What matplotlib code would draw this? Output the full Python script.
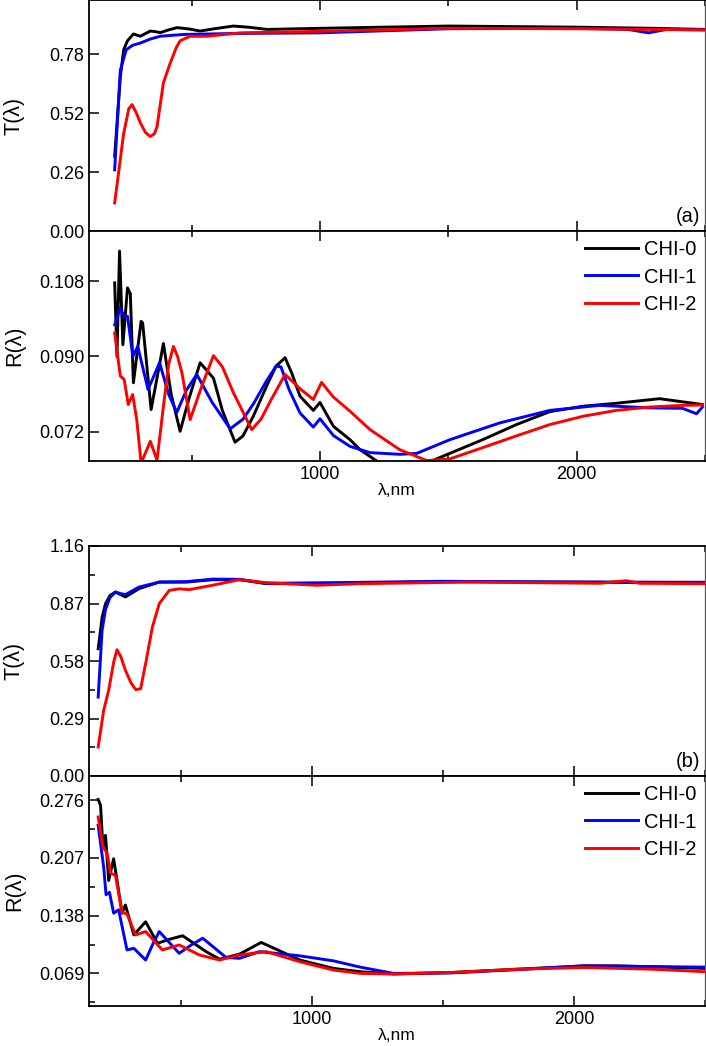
import numpy as np
import matplotlib
matplotlib.use('Agg')
import matplotlib.pyplot as plt
from matplotlib.ticker import MultipleLocator

plt.rcParams['font.family'] = ['Liberation Sans', 'DejaVu Sans']
plt.rcParams['font.size'] = 13

labels = ['CHI-0', 'CHI-1', 'CHI-2']
colors = ['black', 'blue', 'red']

# ---- panel (a), transmittance ----
lam_Ta0 = [200, 222, 235, 250, 273, 300, 320, 339, 360, 378, 410, 443, 490, 533, 600, 662, 720, 794, 1000, 1500,
           2000, 2300, 2500]
Ta0 = [0.33, 0.68, 0.80, 0.84, 0.87, 0.86, 0.872, 0.883, 0.88, 0.876, 0.888, 0.898, 0.892, 0.883, 0.895, 0.905,
       0.90, 0.89, 0.895, 0.905, 0.90, 0.895, 0.89]
lam_Ta1 = [200, 222, 245, 270, 300, 340, 378, 470, 662, 1000, 1500, 2000, 2200, 2280, 2350, 2500]
Ta1 = [0.27, 0.71, 0.80, 0.82, 0.83, 0.848, 0.86, 0.868, 0.872, 0.875, 0.893, 0.895, 0.89, 0.875, 0.89, 0.888]
lam_Ta2 = [200, 235, 255, 268, 285, 300, 320, 339, 355, 365, 390, 416, 440, 455, 494, 560, 689, 922, 1500, 2000,
           2500]
Ta2 = [0.124, 0.43, 0.54, 0.558, 0.52, 0.478, 0.435, 0.417, 0.43, 0.46, 0.655, 0.74, 0.81, 0.84, 0.86, 0.86,
       0.875, 0.88, 0.895, 0.893, 0.888]

# ---- panel (a), reflectance ----
lam_Ra0 = [200, 209, 219, 232, 250, 261, 273, 303, 309, 342, 390, 420, 455, 490, 533, 585, 620, 669, 700, 740,
           800, 829, 864, 890, 922, 974, 1000, 1052, 1117, 1156, 1233, 1416, 1493, 1634, 1765, 1895, 2025,
           2154, 2323, 2490]
Ra0 = [0.1076, 0.090, 0.1152, 0.0928, 0.1064, 0.105, 0.0837, 0.0984, 0.098, 0.0773, 0.0931, 0.081, 0.0721,
       0.080, 0.0885, 0.0848, 0.077, 0.0695, 0.071, 0.0757, 0.084, 0.0877, 0.0897, 0.086, 0.0805, 0.0771,
       0.0790, 0.0733, 0.0701, 0.0677, 0.0645, 0.0645, 0.0665, 0.0701, 0.0737, 0.0768, 0.0781, 0.0788,
       0.0799, 0.0785]
lam_Ra1 = [200, 222, 237, 250, 271, 290, 330, 375, 410, 442, 480, 520, 580, 650, 700, 740, 790, 829, 848, 880,
           922, 974, 1000, 1052, 1117, 1195, 1311, 1376, 1506, 1700, 1895, 2089, 2284, 2412, 2467, 2490]
Ra1 = [0.0976, 0.1016, 0.0995, 0.0996, 0.090, 0.0924, 0.0821, 0.0885, 0.081, 0.0766, 0.082, 0.0857, 0.079,
       0.0727, 0.075, 0.0786, 0.084, 0.0877, 0.0875, 0.082, 0.0765, 0.0731, 0.0751, 0.0711, 0.0685, 0.0670,
       0.0666, 0.0668, 0.0701, 0.0741, 0.0771, 0.0783, 0.0777, 0.0776, 0.0763, 0.0779]
lam_Ra2 = [200, 222, 237, 253, 270, 286, 303, 339, 365, 390, 410, 429, 445, 462, 494, 540, 585, 620, 662, 734,
           770, 810, 864, 922, 974, 1006, 1052, 1117, 1195, 1311, 1416, 1506, 1634, 1765, 1895, 2025, 2154,
           2284, 2412, 2490]
Ra2 = [0.0956, 0.0853, 0.0845, 0.0785, 0.0809, 0.0749, 0.0645, 0.0697, 0.0652, 0.0781, 0.088, 0.0924, 0.090,
       0.0861, 0.0749, 0.083, 0.0902, 0.0875, 0.0814, 0.0725, 0.075, 0.0797, 0.0857, 0.0823, 0.0797, 0.0838,
       0.0803, 0.0769, 0.0725, 0.0677, 0.0651, 0.0655, 0.0682, 0.0710, 0.0737, 0.0757, 0.0771, 0.0779,
       0.0783, 0.0784]

# ---- panel (b), transmittance ----
lam_Tb0 = [185, 200, 213, 230, 251, 270, 289, 341, 418, 520, 621, 724, 826, 1082, 1500, 2000, 2500]
Tb0 = [0.642, 0.80, 0.869, 0.91, 0.928, 0.915, 0.903, 0.945, 0.978, 0.978, 0.99, 0.99, 0.970, 0.972, 0.98,
       0.978, 0.975]
lam_Tb1 = [185, 200, 213, 230, 251, 270, 289, 341, 418, 520, 621, 724, 826, 1082, 1500, 2000, 2500]
Tb1 = [0.398, 0.735, 0.84, 0.90, 0.928, 0.92, 0.915, 0.953, 0.978, 0.98, 0.993, 0.992, 0.972, 0.975, 0.982,
       0.978, 0.977]
lam_Tb2 = [185, 206, 225, 245, 257, 272, 289, 310, 328, 347, 366, 392, 418, 456, 494, 533, 621, 724, 826, 1018,
           1184, 1600, 2100, 2200, 2250, 2500]
Tb2 = [0.146, 0.331, 0.432, 0.58, 0.637, 0.6, 0.533, 0.47, 0.436, 0.44, 0.567, 0.752, 0.869, 0.936, 0.944,
       0.94, 0.962, 0.99, 0.975, 0.962, 0.97, 0.978, 0.972, 0.985, 0.972, 0.97]

# ---- panel (b), reflectance ----
lam_Rb0 = [185, 194, 203, 213, 225, 244, 257, 276, 289, 321, 366, 411, 460, 507, 597, 648, 724, 807, 954,
           1082, 1184, 1312, 1529, 1784, 2040, 2167, 2498]
Rb0 = [0.277, 0.270, 0.220, 0.234, 0.180, 0.206, 0.180, 0.141, 0.1507, 0.115, 0.1307, 0.105, 0.11, 0.114,
       0.095, 0.086, 0.092, 0.106, 0.085, 0.075, 0.071, 0.0683, 0.070, 0.074, 0.078, 0.078, 0.075]
lam_Rb1 = [185, 206, 215, 228, 244, 263, 295, 321, 366, 395, 418, 494, 540, 584, 673, 724, 800, 954, 1082, 1184,
           1312, 1529, 1784, 2040, 2498]
Rb1 = [0.246, 0.196, 0.163, 0.166, 0.141, 0.145, 0.097, 0.099, 0.085, 0.105, 0.119, 0.093, 0.103, 0.111,
       0.088, 0.087, 0.095, 0.090, 0.084, 0.0765, 0.069, 0.0695, 0.0735, 0.078, 0.0765]
lam_Rb2 = [185, 203, 219, 232, 251, 276, 295, 328, 366, 430, 494, 571, 648, 724, 826, 954, 1082, 1184,
           1312, 1529, 1784, 2040, 2300, 2498]
Rb2 = [0.256, 0.220, 0.213, 0.189, 0.186, 0.142, 0.140, 0.115, 0.119, 0.097, 0.103, 0.091, 0.085, 0.091,
       0.095, 0.083, 0.073, 0.069, 0.0683, 0.070, 0.074, 0.076, 0.074, 0.071]

Ta_lam = [lam_Ta0, lam_Ta1, lam_Ta2]
Ta = [Ta0, Ta1, Ta2]
Ra_lam = [lam_Ra0, lam_Ra1, lam_Ra2]
Ra = [Ra0, Ra1, Ra2]
Tb_lam = [lam_Tb0, lam_Tb1, lam_Tb2]
Tb = [Tb0, Tb1, Tb2]
Rb_lam = [lam_Rb0, lam_Rb1, lam_Rb2]
Rb = [Rb0, Rb1, Rb2]

W, H = 706, 1046
fig = plt.figure(figsize=(W / 100, H / 100), dpi=100)


def make_ax(top_px, bottom_px):
    ax = fig.add_axes([89 / W, 1 - bottom_px / H, 616 / W, (bottom_px - top_px) / H])
    for s in ax.spines.values():
        s.set_linewidth(1.3)
    ax.spines['right'].set_linewidth(0.9)
    ax.spines['right'].set_color('#555555')
    ax.tick_params(which='both', direction='in', top=True, bottom=True, right=False, width=1.1, labelsize=13)
    ax.tick_params(which='major', length=7)
    ax.tick_params(which='minor', length=4)
    ax.xaxis.set_major_locator(MultipleLocator(1000))
    ax.xaxis.set_minor_locator(MultipleLocator(500))
    ax.yaxis.set_label_coords(-0.104, 0.5)
    return ax


def draw(ax, lams, vals, legend=False):
    for lam, v, c, lb in zip(lams, vals, colors, labels):
        ax.plot(lam, v, color=c, lw=2.1, label=lb, solid_joinstyle='round')
    if legend:
        ax.legend(loc='upper right', frameon=False, fontsize=14.5, handlelength=2.6, handletextpad=0.3,
                  labelspacing=0.42, borderaxespad=0.2, borderpad=0.25)


# (a) T
ax1 = make_ax(0, 231)
draw(ax1, Ta_lam, Ta)
ax1.set_xlim(100, 2500)
ax1.set_ylim(0, 1.02)
ax1.set_yticks([0.0, 0.26, 0.52, 0.78])
ax1.set_yticklabels(['0.00', '0.26', '0.52', '0.78'])
ax1.tick_params(labelbottom=False)
ax1.set_ylabel('T(λ)', fontsize=15.5)
ax1.text(0.993, 0.02, '(a)', transform=ax1.transAxes, ha='right', va='bottom', fontsize=14.5)

# (a) R
ax2 = make_ax(231, 461)
draw(ax2, Ra_lam, Ra, legend=True)
ax2.set_xlim(100, 2500)
ax2.set_ylim(0.065, 0.120)
ax2.set_yticks([0.072, 0.090, 0.108])
ax2.set_yticklabels(['0.072', '0.090', '0.108'])
ax2.set_ylabel('R(λ)', fontsize=15.5)
ax2.set_xlabel('λ,nm', fontsize=12.5)
ax2.xaxis.set_label_coords(0.5, -0.095)

# (b) T
ax3 = make_ax(546, 776)
draw(ax3, Tb_lam, Tb)
ax3.set_xlim(150, 2500)
ax3.set_ylim(0, 1.16)
ax3.set_yticks([0.0, 0.29, 0.58, 0.87, 1.16])
ax3.set_yticklabels(['0.00', '0.29', '0.58', '0.87', '1.16'])
ax3.yaxis.set_minor_locator(MultipleLocator(0.145))
ax3.tick_params(labelbottom=False)
ax3.set_ylabel('T(λ)', fontsize=15.5)
ax3.text(0.993, 0.02, '(b)', transform=ax3.transAxes, ha='right', va='bottom', fontsize=14.5)

# (b) R
ax4 = make_ax(776, 1006)
draw(ax4, Rb_lam, Rb, legend=True)
ax4.set_xlim(150, 2500)
ax4.set_ylim(0.030, 0.305)
ax4.set_yticks([0.069, 0.138, 0.207, 0.276])
ax4.set_yticklabels(['0.069', '0.138', '0.207', '0.276'])
ax4.set_yticks([0.0345, 0.1035, 0.1725, 0.2415], minor=True)
ax4.set_ylabel('R(λ)', fontsize=15.5)
ax4.set_xlabel('λ,nm', fontsize=12.5)
ax4.xaxis.set_label_coords(0.5, -0.095)

fig.savefig('out.png', dpi=100)
